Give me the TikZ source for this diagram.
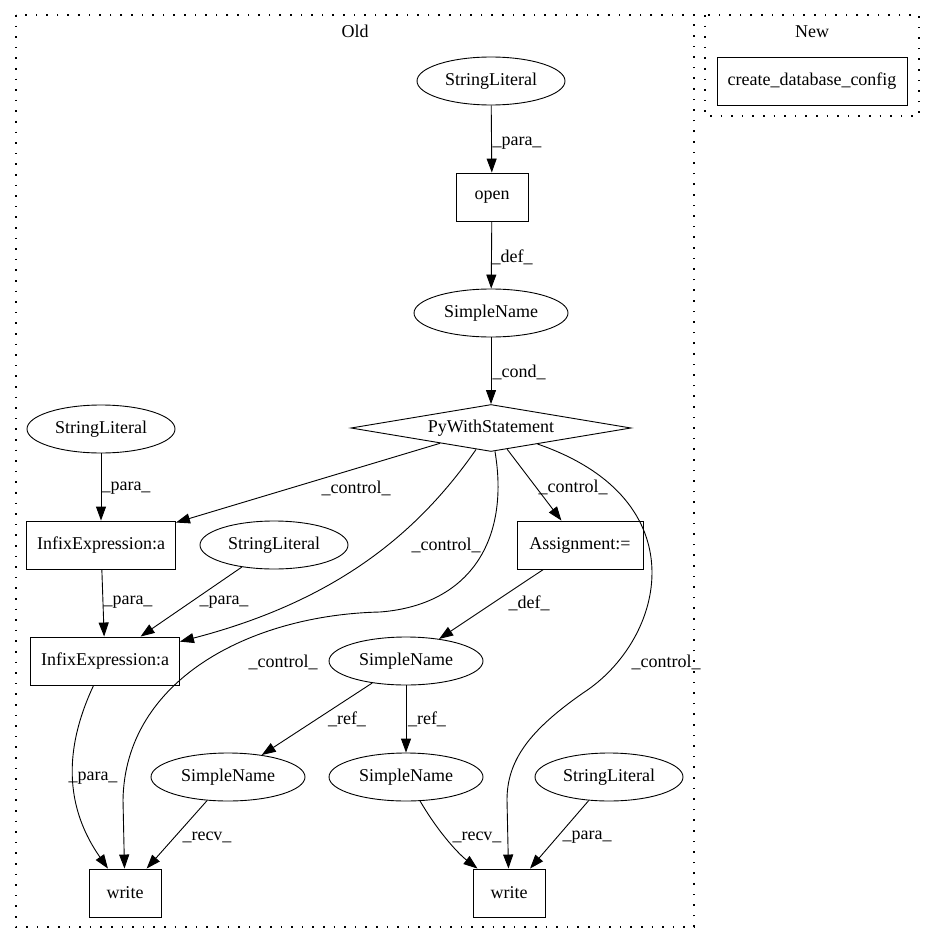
\documentclass[tikz,border=0pt]{standalone}
\usepackage{fontspec}
\setmainfont{Liberation Serif}
\usetikzlibrary{shapes.geometric,arrows.meta}
\tikzset{
  base/.style={draw=black, line width=0.9pt, font=\fontsize{18pt}{21pt}\selectfont, inner sep=0pt},
  ell/.style={base, ellipse, minimum height=48pt},
  box/.style={base, rectangle, minimum height=48pt},
  dia/.style={base, diamond, aspect=6, minimum width=280pt, minimum height=47pt},
  edge/.style={line width=0.9pt, -{Triangle[length=14pt,width=10pt]}},
  lbl/.style={font=\fontsize{18pt}{21pt}\selectfont, inner sep=0pt},
  clus/.style={line width=1.4pt, dash pattern=on 1.6pt off 9pt},
}
\begin{document}
\begin{tikzpicture}[x=1pt,y=-1pt]
\useasboundingbox (0,0) rectangle (935,944);
% clusters
\draw[clus] (16,15) rectangle (694,927);
\node[lbl] (oldlbl) at (355,31) {Old};
\draw[clus] (705,15) rectangle (919,116);
\node[lbl] (newlbl) at (812,32) {New};
\node[box, minimum width=190pt] (cdc) at (812,81) {create\_database\_config};

% nodes
\node[ell, minimum width=148pt] (sl1) at (491,81) {StringLiteral};
\node[box, minimum width=72pt] (open) at (492,197) {open};
\node[ell, minimum width=154pt] (sn1) at (491,313) {SimpleName};
\node[dia] (pws) at (491,428) {PyWithStatement};
\node[ell, minimum width=148pt] (sl2) at (101,429) {StringLiteral};
\node[box, minimum width=149pt] (i1) at (101,545) {InfixExpression:a};
\node[ell, minimum width=148pt] (sl3) at (274,545) {StringLiteral};
\node[box, minimum width=126pt] (asg) at (580,545) {Assignment:=};
\node[box, minimum width=149pt] (i2) at (105,661) {InfixExpression:a};
\node[ell, minimum width=154pt] (sn2) at (406,661) {SimpleName};
\node[ell, minimum width=154pt] (sn3) at (228,777) {SimpleName};
\node[ell, minimum width=154pt] (sn4) at (406,777) {SimpleName};
\node[ell, minimum width=148pt] (sl4) at (609,777) {StringLiteral};
\node[box, minimum width=72pt] (w1) at (125,893) {write};
\node[box, minimum width=72pt] (w2) at (509,893) {write};

% edges
\draw[edge] (sl1) -- (open);
\node[lbl] at (517,143) {\_para\_};
\draw[edge] (open) -- (sn1);
\node[lbl] at (512,257) {\_def\_};
\draw[edge] (sn1) -- (pws);
\node[lbl] at (519,372) {\_cond\_};

\draw[edge] (pws) -- (i1);
\node[lbl] at (356,488) {\_control\_};
\draw[edge] (pws) .. controls (420,530) and (340,600) .. (i2);
\node[lbl] at (446,545) {\_control\_};
\draw[edge] (pws) .. controls (510,540) and (470,605) .. (380,612)
  .. controls (250,615) and (125,680) .. (123,800) -- (w1);
\node[lbl] at (283,662) {\_control\_};
\draw[edge] (pws) -- (asg);
\node[lbl] at (573,487) {\_control\_};
\draw[edge] (pws) .. controls (700,500) and (665,640) .. (583,693)
  .. controls (530,730) and (507,760) .. (507,800) -- (w2);
\node[lbl] at (666,662) {\_control\_};

\draw[edge] (sl2) -- (i1);
\node[lbl] at (126,488) {\_para\_};
\draw[edge] (i1) -- (i2);
\node[lbl] at (128,602) {\_para\_};
\draw[edge] (sl3) -- (i2);
\node[lbl] at (224,602) {\_para\_};
\draw[edge] (asg) -- (sn2);
\node[lbl] at (529,603) {\_def\_};

\draw[edge] (i2) .. controls (68,740) and (60,800) .. (w1);
\node[lbl] at (93,778) {\_para\_};
\draw[edge] (sn2) -- (sn3);
\node[lbl] at (347,719) {\_ref\_};
\draw[edge] (sn2) -- (sn4);
\node[lbl] at (427,719) {\_ref\_};
\draw[edge] (sn3) -- (w1);
\node[lbl] at (207,837) {\_recv\_};
\draw[edge] (sn4) .. controls (440,835) and (460,855) .. (w2);
\node[lbl] at (477,837) {\_recv\_};
\draw[edge] (sl4) -- (w2);
\node[lbl] at (587,837) {\_para\_};
\end{tikzpicture}
\end{document}
